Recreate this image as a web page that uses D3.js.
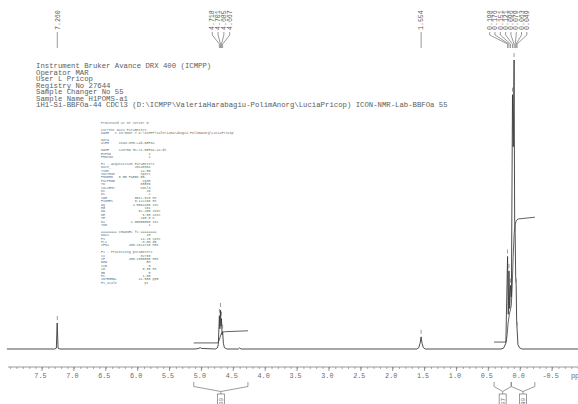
<!DOCTYPE html>
<html><head><meta charset="utf-8">
<script src="https://cdn.jsdelivr.net/npm/d3@7"></script>
<style>
body{margin:0;background:#fff}
svg{display:block}
text{font-family:"Liberation Mono","DejaVu Sans Mono",monospace}
</style>
</head><body>
<script>
// ---- acquisition header ----
const headerLines = [
  "Instrument Bruker Avance DRX 400 (ICMPP)",
  "Operator MAR",
  "User L Pricop",
  "Registry No 27644",
  "Sample Changer No 55",
  "Sample Name H1POMS-a1",
  "1H1-Si-BBFOa-44 CDCl3 (D:\\ICMPP\\ValeriaHarabagiu-PolimAnorg\\LuciaPricop) ICON-NMR-Lab-BBFOa 55"
];

// ---- processing / acquisition parameter listing ----
const paramLines = [
  "Processed at NT Server 0",
  "",
  "Current Data Parameters",
  "NAME   1 IN:ROOT > D:\\ICMPP\\ValeriaHarabagiu-PolimAnorg\\LuciaPricop",
  "",
  "DATA",
  "USER     ICON-NMR-Lab-BBFOa",
  "",
  "NAME     143709 H1-Si-BBFOa-44.dx",
  "EXPNO                   1",
  "PROCNO                  1",
  "",
  "F2 - Acquisition Parameters",
  "Date_            20140304",
  "Time                14.55",
  "INSTRUM             spect",
  "PROBHD   5 mm PABBO BB-",
  "PULPROG              zg30",
  "TD                  65536",
  "SOLVENT             CDCl3",
  "NS                     16",
  "DS                      2",
  "SWH              8012.820 Hz",
  "FIDRES           0.122266 Hz",
  "AQ              4.0894465 sec",
  "RG                    161",
  "DW                 62.400 usec",
  "DE                   6.00 usec",
  "TE                  298.0 K",
  "D1             1.00000000 sec",
  "TD0                     1",
  "",
  "======== CHANNEL f1 ========",
  "NUC1                   1H",
  "P1                  14.25 usec",
  "PL1                 -3.00 dB",
  "SFO1          400.1324710 MHz",
  "",
  "F2 - Processing parameters",
  "SI                  32768",
  "SF            400.1300000 MHz",
  "WDW                    EM",
  "SSB                     0",
  "LB                   0.30 Hz",
  "GB                      0",
  "PC                   1.00",
  "INTEGRAL           41.500 ppm",
  "F1_scale              pt"
];

// ---- axis ----
const axisMajorTicks = [7.5, 7.0, 6.5, 6.0, 5.5, 5.0, 4.5, 4.0, 3.5, 3.0, 2.5, 2.0, 1.5, 1.0, 0.5, 0.0, -0.5];
const axisLabels = ["7.5","7.0","6.5","6.0","5.5","5.0","4.5","4.0","3.5","3.0","2.5","2.0","1.5","1.0","0.5","0.0","-0.5"];
const axisUnit = "ppm";

// ---- spectrum trace: chemical shift (ppm) and intensity ----
const tracePpm = [
  8.05, 7.30, 7.275, 7.262, 7.248, 7.22,
  5.10, 5.04, 5.02, 5.00,
  4.78, 4.75, 4.735, 4.718, 4.710, 4.701, 4.693, 4.685, 4.676, 4.667, 4.655, 4.64, 4.60,
  4.42, 4.40, 4.38,
  1.62, 1.59, 1.57, 1.554, 1.54, 1.52, 1.49,
  0.30, 0.26, 0.225, 0.198, 0.187, 0.176, 0.165, 0.151, 0.138, 0.121, 0.108, 0.096, 0.087, 0.079, 0.071, 0.063, 0.056, 0.049, 0.035, 0.01, -0.03,
  -0.95
];
const traceInt = [
  0, 0, 0.3, 9.0, 0.3, 0,
  0, 0.2, 0.5, 0.2,
  0, 0.4, 1.5, 11.5, 7.0, 13.5, 8.0, 10.5, 5.0, 6.0, 2.0, 0.5, 0,
  0, 0.4, 0,
  0, 0.5, 2.0, 4.2, 2.0, 0.5, 0,
  0, 0.3, 2.0, 32, 12, 27, 14, 22, 18, 88, 70, 100, 45, 40, 25, 22, 10, 7, 1.5, 0.4, 0,
  0
];

// ---- peak picks ----
const pickGroups = [
  { labels: ["7.260"], ppm: [7.260], height: [9.0] },
  { labels: ["4.718","4.701","4.685","4.667"], ppm: [4.718, 4.701, 4.685, 4.667], height: [11.5, 13.5, 10.5, 6.0] },
  { labels: ["1.554"], ppm: [1.554], height: [4.2] },
  { labels: ["0.198","0.176","0.151","0.121","0.096","0.079","0.063","0.049"],
    ppm: [0.198, 0.176, 0.151, 0.121, 0.096, 0.079, 0.063, 0.049],
    height: [32, 27, 22, 88, 100, 40, 22, 7] }
];

// ---- integrals ----
const integralRegions = [[5.12, 4.27], [0.41, 0.14], [0.14, -0.23]];
const integralValues = ["1.00", "1.07", "2.80"];
const integralCurves = [
  { ppm: [5.12, 4.745, 4.725, 4.705, 4.69, 4.675, 4.66, 4.62, 4.27], val: [2.1, 2.1, 2.8, 4.2, 5.2, 5.7, 5.9, 6.0, 6.3] },
  { ppm: [0.41, 0.22, 0.205, 0.19, 0.17, 0.15, 0.14], val: [2.4, 2.4, 5, 9, 12, 14, 15] },
  { ppm: [0.14, 0.125, 0.11, 0.095, 0.08, 0.065, 0.05, 0.03, -0.23], val: [15, 22, 32, 40, 43, 44.2, 44.7, 45, 45.6] }
];

const W = 578, H = 404;
const svg = d3.select("body").append("svg").attr("width", W).attr("height", H);

const x = d3.scaleLinear().domain([0, 7.26]).range([520.2, 57.3]);
const y = d3.scaleLinear().domain([0, 100]).range([349, 60]);

const ink = "#3a3a3a", grey = "#707070";

// header
svg.append("g").selectAll("text").data(headerLines).join("text")
  .attr("x", 36).attr("y", (d, i) => 68 + i * 6.5)
  .attr("font-size", 7.3).attr("fill", "#5c5c5c")
  .attr("xml:space", "preserve").text(d => d);

// parameter listing
svg.append("g").selectAll("text").data(paramLines).join("text")
  .attr("x", 101).attr("y", (d, i) => 124 + i * 3.4)
  .attr("font-size", 3.3).attr("fill", "#6a6a6a")
  .attr("xml:space", "preserve").text(d => d);

// spectrum
const pts = tracePpm.map((p, i) => [p, traceInt[i]]);
svg.append("path").datum(pts)
  .attr("fill", "none").attr("stroke", ink).attr("stroke-width", 0.9)
  .attr("d", d3.line().x(d => x(d[0])).y(d => y(d[1])));

// integral curves
integralCurves.forEach(c => {
  svg.append("path").datum(c.ppm.map((p, i) => [p, c.val[i]]))
    .attr("fill", "none").attr("stroke", ink).attr("stroke-width", 0.8)
    .attr("d", d3.line().x(d => x(d[0])).y(d => y(d[1])));
});

// peak markers above picked lines
pickGroups.forEach(g => {
  g.ppm.forEach((p, i) => {
    const top = y(g.height[i]);
    svg.append("line").attr("x1", x(p)).attr("x2", x(p))
      .attr("y1", top - 7).attr("y2", top - 3)
      .attr("stroke", grey).attr("stroke-width", 0.7);
  });
});

// peak labels with connectors
const labTop = 31;
pickGroups.forEach(g => {
  const n = g.labels.length;
  const step = n > 4 ? 5.3 : 5.8;
  const centre = d3.mean(g.ppm.map(p => x(p))) - (n > 4 ? 4.5 : 0);
  g.labels.forEach((lab, i) => {
    const lx = n === 1 ? x(g.ppm[0]) : centre + (i - (n - 1) / 2) * step;
    const px = x(g.ppm[i]);
    svg.append("text")
      .attr("transform", `translate(${lx + 2.2},${labTop - 1}) rotate(-90)`)
      .attr("font-size", 6.6).attr("fill", "#5c5c5c").text(lab);
    svg.append("path")
      .attr("d", d3.line()([[lx, labTop + 1], [lx, labTop + 4], [px, labTop + 13], [px, labTop + 17]]))
      .attr("fill", "none").attr("stroke", grey).attr("stroke-width", 0.7);
  });
});

// axis
const axisY = 367;
const ax = d3.axisBottom(x)
  .tickValues(d3.range(-9, 81).map(v => v / 10))
  .tickSize(2).tickFormat("");
const axG = svg.append("g").attr("transform", `translate(0,${axisY})`).call(ax);
axG.select(".domain").remove();
axG.selectAll(".tick line").attr("stroke", grey).attr("stroke-width", 0.6);
svg.append("line").attr("x1", 8).attr("x2", W).attr("y1", axisY).attr("y2", axisY)
  .attr("stroke", grey).attr("stroke-width", 0.7);
svg.append("g").selectAll("line").data(axisMajorTicks).join("line")
  .attr("x1", d => x(d)).attr("x2", d => x(d)).attr("y1", axisY).attr("y2", axisY + 4)
  .attr("stroke", grey).attr("stroke-width", 0.7);
svg.append("g").selectAll("text").data(axisMajorTicks).join("text")
  .attr("x", d => x(d) - 1.5).attr("y", axisY + 11)
  .attr("text-anchor", "middle").attr("font-size", 6.8).attr("fill", "#6a6a6a")
  .text((d, i) => axisLabels[i]);
svg.append("text").attr("x", 571).attr("y", axisY + 11)
  .attr("font-size", 6.8).attr("fill", "#6a6a6a").text(axisUnit);

// integral brackets
integralRegions.forEach((r, i) => {
  const x0 = x(r[0]), x1 = x(r[1]), xc = (x0 + x1) / 2;
  svg.append("path")
    .attr("d", d3.line()([[x0, 382], [x0, 386.5], [xc, 391.5], [x1, 386.5], [x1, 382]]))
    .attr("fill", "none").attr("stroke", grey).attr("stroke-width", 0.7);
  svg.append("line").attr("x1", xc).attr("x2", xc).attr("y1", 391.5).attr("y2", 394)
    .attr("stroke", grey).attr("stroke-width", 0.7);
  svg.append("rect").attr("x", xc - 3.5).attr("y", 394).attr("width", 7).attr("height", 20)
    .attr("fill", "none").attr("stroke", grey).attr("stroke-width", 0.7);
  svg.append("text")
    .attr("transform", `translate(${xc + 2},${412}) rotate(-90)`)
    .attr("font-size", 5.8).attr("fill", "#555").text(integralValues[i]);
});
</script>
</body></html>
